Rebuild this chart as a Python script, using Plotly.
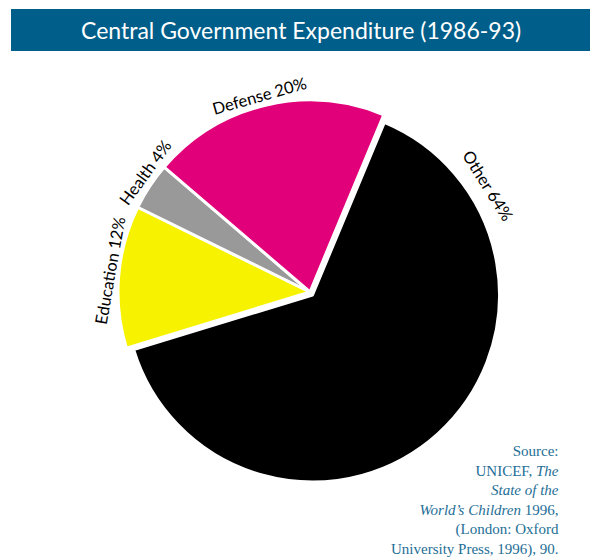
import plotly.graph_objects as go

W, H = 590, 558

categories = ["Other", "Education", "Health", "Defense"]
values = [64, 12, 4, 20]
colors = ["#000000", "#f7f300", "#999999", "#e2007a"]
labels = ["Other 64%", "Education 12%", "Health 4%", "Defense 20%"]
title_text = "Central Government Expenditure (1986-93)"
source_lines = ["Source:", "UNICEF, <i>The</i>", "<i>State of the</i>",
                "<i>World\u2019s Children</i> 1996,", "(London: Oxford",
                "University Press, 1996), 90."]


def px_domain(cx, cy, r):
    return dict(x=[(cx - r) / W, (cx + r) / W],
                y=[1 - (cy + r) / H, 1 - (cy - r) / H])


fig = go.Figure()

# Other slice (slightly pulled out, drawn separately)
fig.add_trace(go.Pie(
    labels=categories, values=values, sort=False, direction="clockwise",
    rotation=22.6, textinfo="none", hoverinfo="label+percent",
    marker=dict(colors=[colors[0]] + ["rgba(0,0,0,0)"] * 3,
                line=dict(color="white", width=[3, 0, 0, 0])),
    domain=px_domain(312.5, 295, 187), showlegend=False,
))
# remaining slices
fig.add_trace(go.Pie(
    labels=categories, values=values, sort=False, direction="clockwise",
    rotation=22.6, textinfo="none", hoverinfo="label+percent",
    marker=dict(colors=["rgba(0,0,0,0)"] + colors[1:],
                line=dict(color="white", width=[0, 3, 3, 3])),
    domain=px_domain(310, 292, 192), showlegend=False,
))

# rotated labels around the arc
label_pos = {
    "Other 64%": (488, 186, 58),
    "Education 12%": (110, 271, -80),
    "Health 4%": (145, 173, -54),
    "Defense 20%": (259, 96, -16),
}
annotations = []
for lab in labels:
    x, y, ang = label_pos[lab]
    annotations.append(dict(
        text=lab, x=x / W, y=1 - y / H, xref="paper", yref="paper",
        showarrow=False, textangle=ang, xanchor="center", yanchor="middle",
        font=dict(family="Lato", size=16.5, color="#000000")))

annotations.append(dict(
    text=title_text, x=301 / W, y=1 - 30 / H, xref="paper", yref="paper",
    showarrow=False, xanchor="center", yanchor="middle",
    font=dict(family="Lato", size=23, color="white")))

annotations.append(dict(
    text="<br>".join(source_lines), x=561 / W, y=1 - 441 / H,
    xref="paper", yref="paper", showarrow=False, xanchor="right",
    yanchor="top", align="right",
    font=dict(family="Liberation Serif", size=15, color="#1e6e96")))

fig.update_layout(
    width=W, height=H, margin=dict(l=0, r=0, t=0, b=0),
    paper_bgcolor="white", plot_bgcolor="white",
    shapes=[dict(type="rect", xref="paper", yref="paper",
                 x0=11 / W, x1=1, y0=1 - 51 / H, y1=1 - 9 / H,
                 fillcolor="#005e8a", line=dict(width=0), layer="below")],
    annotations=annotations,
)

fig.write_html("out.html", config={"displayModeBar": False},
               post_script="document.body.style.margin='0';"
                           "document.body.style.overflow='hidden';")
